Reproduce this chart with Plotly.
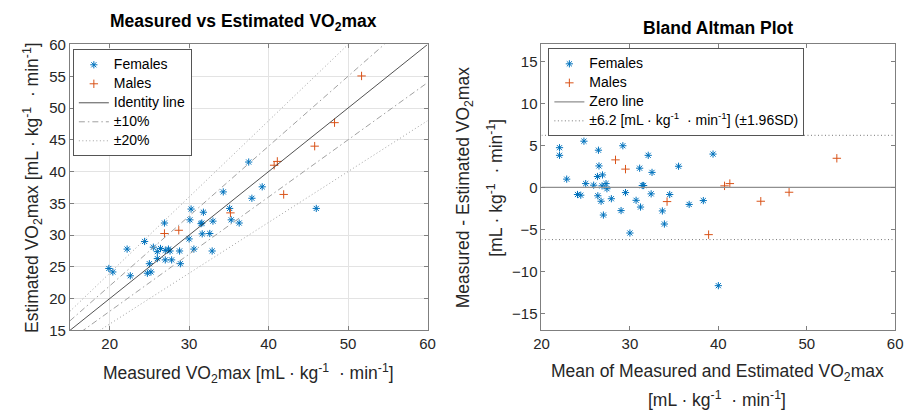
import plotly.graph_objects as go

# ---------------- data ----------------
# Left panel: Measured (x) vs Estimated (y)
fem_meas = [19.9, 20.4, 22.2, 22.6, 24.4, 25.0, 24.75, 25.2, 25.5, 26.0, 26.4, 26.0,
            26.9, 27.0, 27.0, 27.4, 27.6, 27.8, 28.8, 28.9, 30.0, 30.1, 30.25, 30.6,
            31.5, 31.6, 31.8, 31.65, 32.6, 33.0, 32.9, 34.3, 35.1, 35.3, 36.3, 37.5,
            37.9, 39.2, 46.0]
fem_est = [24.75, 24.2, 27.8, 23.6, 29.0, 25.5, 24.0, 24.2, 28.1, 27.4, 27.9, 26.3,
           31.9, 27.6, 26.1, 27.8, 27.5, 26.1, 27.5, 25.5, 29.4, 32.4, 34.1, 27.8,
           31.8, 31.9, 33.6, 30.2, 30.25, 32.2, 27.5, 36.8, 34.2, 32.4, 31.9, 41.5,
           35.8, 37.6, 34.2]
male_meas = [26.9, 28.7, 35.2, 40.7, 41.1, 41.9, 45.8, 48.3, 51.7]
male_est = [30.25, 30.76, 33.5, 41.0, 41.6, 36.4, 44.0, 47.7, 55.05]

# Right panel: Bland-Altman (mean, difference)
fem_mean = [22.04, 22.04, 22.85, 24.8, 24.07, 24.44, 25.0, 25.9, 26.44, 26.5, 26.33,
            26.9, 26.37, 26.74, 26.85, 27.3, 27.4, 27.0, 27.9, 29.0, 29.2, 29.5, 30.0,
            30.7, 31.1, 31.2, 31.4, 31.55, 32.07, 32.4, 32.5, 33.67, 33.9, 34.5, 35.5,
            36.7, 38.3, 39.4, 40.0]
fem_diff = [4.73, 3.82, 0.99, 5.5, -0.84, -0.92, 0.46, 0.27, 4.43, 2.56, 1.30,
            1.49, -0.99, -1.64, 0.19, 0.46, -0.15, -3.28, -1.34, -2.75, 4.96, -0.61, -5.42,
            -1.53, 2.29, -2.33, 0.23, 0.23, 3.82, -0.76, 1.79, -2.79, -4.35, -0.84, 2.52,
            -2.02, -1.56, 3.97, -11.68]
male_mean = [28.37, 29.5, 34.2, 38.9, 40.7, 41.3, 44.8, 48.0, 53.4]
male_diff = [3.28, 2.18, -1.68, -5.61, 0.19, 0.46, -1.64, -0.57, 3.47]

band_pcts = [0.10, 0.20]
loa = 6.2
left_range = [15, 60]
right_xrange = [20, 60]
right_yrange = [-17, 17]
left_ticks = [15, 20, 25, 30, 35, 40, 45, 50, 55, 60]
left_xticks = [20, 30, 40, 50, 60]
right_xticks = [20, 30, 40, 50, 60]
right_yticks = [-15, -10, -5, 0, 5, 10, 15]

# ---------------- styling ----------------
FONT = "Liberation Sans, Arial, Helvetica, sans-serif"
TXT = "#262626"
BLUE = "#0072BD"
ORANGE = "#D95319"
W, H = 914, 419
UNIT = "[mL · kg<sup>-1</sup>  · min<sup>-1</sup>]"
FEM_MARK = dict(symbol="asterisk-open", size=6, color=BLUE, line=dict(color=BLUE, width=1))
MALE_MARK = dict(symbol="cross-thin-open", size=6, color=ORANGE, line=dict(color=ORANGE, width=1))


def lg(s):
    # legend entry text at the reference's size; the legend's own (smaller) font
    # keeps the rows as tight as in the reference
    return '<span style="font-size:14px">%s</span>' % s


fig = go.Figure()

# Left panel
fig.add_trace(go.Scatter(x=fem_meas, y=fem_est, mode="markers", name=lg("Females"),
                         marker=FEM_MARK, legend="legend", xaxis="x", yaxis="y"))
fig.add_trace(go.Scatter(x=male_meas, y=male_est, mode="markers", name=lg("Males"),
                         marker=MALE_MARK, legend="legend", xaxis="x", yaxis="y"))
fig.add_trace(go.Scatter(x=left_range, y=left_range, mode="lines", name=lg("Identity line"),
                         line=dict(color="#262626", width=0.8),
                         legend="legend", xaxis="x", yaxis="y"))
for p, dash, label in zip(band_pcts, ["6px,3px,1.5px,3px", "1px,2.5px"], ["±10%", "±20%"]):
    xs = list(left_range) + [None] + list(left_range)
    ys = [v * (1 + p) for v in left_range] + [None] + [v * (1 - p) for v in left_range]
    fig.add_trace(go.Scatter(x=xs, y=ys, mode="lines", name=lg(label),
                             line=dict(color="#a0a0a0", width=1, dash=dash),
                             legend="legend", xaxis="x", yaxis="y"))

# Right panel
fig.add_trace(go.Scatter(x=fem_mean, y=fem_diff, mode="markers", name=lg("Females"),
                         marker=FEM_MARK, legend="legend2", xaxis="x2", yaxis="y2"))
fig.add_trace(go.Scatter(x=male_mean, y=male_diff, mode="markers", name=lg("Males"),
                         marker=MALE_MARK, legend="legend2", xaxis="x2", yaxis="y2"))
fig.add_trace(go.Scatter(x=right_xrange, y=[0, 0], mode="lines", name=lg("Zero line"),
                         line=dict(color="#8f8f8f", width=1.2),
                         legend="legend2", xaxis="x2", yaxis="y2"))
fig.add_trace(go.Scatter(x=list(right_xrange) + [None] + list(right_xrange),
                         y=[loa, loa, None, -loa, -loa], mode="lines",
                         name=lg("±6.2 " + UNIT + " (±1.96SD)"),
                         line=dict(color="#777777", width=1, dash="1px,2.5px"),
                         legend="legend2", xaxis="x2", yaxis="y2"))

axis_common = dict(showline=True, linecolor="#7f7f7f", linewidth=1, mirror="ticks",
                   ticks="inside", ticklen=4, tickcolor="#7f7f7f", zeroline=False,
                   tickfont=dict(family=FONT, size=15, color=TXT))

ytop = (H - 37) / H
ybot = (H - 335) / H
leg_common = dict(xanchor="left", yanchor="top", bgcolor="white",
                  bordercolor="#555555", borderwidth=1,
                  font=dict(family=FONT, size=11, color="black"),
                  tracegroupgap=0, itemwidth=30)
fig.update_layout(
    width=W, height=H, margin=dict(l=0, r=0, t=0, b=0),
    paper_bgcolor="white", plot_bgcolor="white",
    font=dict(family=FONT, color=TXT),
    xaxis=dict(domain=[63 / W, 427 / W], range=left_range, tickvals=left_xticks,
               showgrid=True, gridcolor="#e3e3e3", anchor="y", **axis_common),
    yaxis=dict(domain=[ybot, ytop], range=left_range, tickvals=left_ticks,
               showgrid=True, gridcolor="#e3e3e3", anchor="x", **axis_common),
    xaxis2=dict(domain=[543 / W, 903 / W], range=right_xrange, tickvals=right_xticks,
                showgrid=False, anchor="y2", **axis_common),
    yaxis2=dict(domain=[ybot, ytop], range=right_yrange, tickvals=right_yticks,
                showgrid=False, anchor="x2", **axis_common),
    legend=dict(x=66 / W, y=(H - 42) / H, **leg_common),
    legend2=dict(x=550 / W, y=(H - 41) / H, **leg_common),
    showlegend=True,
)

def ann(text, xpx, ypx, size, angle=0, bold=False):
    fig.add_annotation(text=("<b>%s</b>" % text) if bold else text,
                       x=xpx / W, y=(H - ypx) / H, xref="paper", yref="paper",
                       xanchor="center", yanchor="middle", showarrow=False,
                       textangle=angle, font=dict(family=FONT, size=size,
                                                  color="black" if bold else TXT))

ann("Measured vs Estimated VO<sub>2</sub>max", 240, 14, 17.5, bold=True)
ann("Bland Altman Plot", 723, 20, 17.5, bold=True)
ann("Measured VO<sub>2</sub>max " + UNIT, 245, 380, 17.5)
ann("Estimated VO<sub>2</sub>max " + UNIT, 25, 186, 17.5, angle=-90)
ann("Measured - Estimated VO<sub>2</sub>max", 465, 186, 17.5, angle=-90)
ann(UNIT, 496, 186, 17.5, angle=-90)
ann("Mean of Measured and Estimated VO<sub>2</sub>max", 722, 379, 17.5)
ann(UNIT, 722, 407, 17.5)

fig.write_html("out.html")
